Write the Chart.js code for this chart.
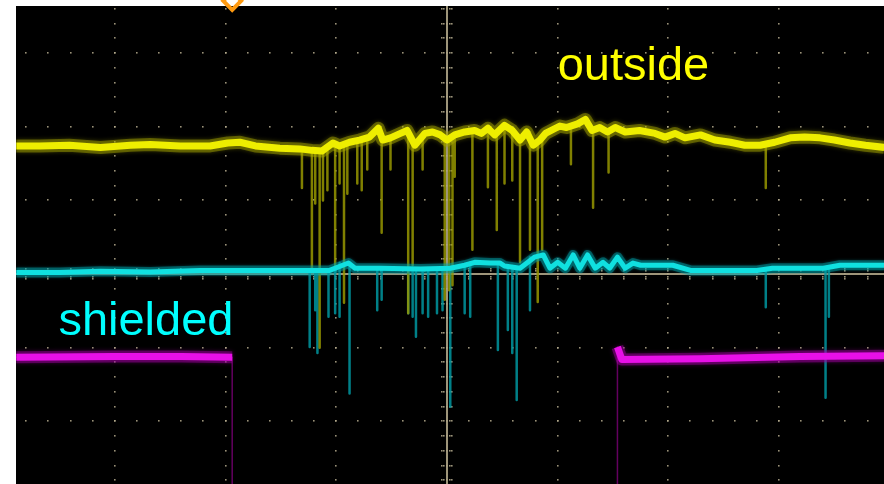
<!DOCTYPE html>
<html>
<head>
<meta charset="utf-8">
<script src="https://cdn.jsdelivr.net/npm/chart.js@4/dist/chart.umd.min.js"></script>
<style>
  html, body { margin: 0; padding: 0; background: #ffffff; }
  canvas { display: block; }
</style>
</head>
<body>
<canvas id="scope" width="884" height="484"></canvas>
<script>
// Visible screen, in divisions (time horizontally, volts vertically)
const timeRange = [-3.893, 3.948];
const voltRange = [-2.85, 3.64];
const majorX = [-3, -2, -1, 0, 1, 2, 3];
const majorY = [3, 2, 1, 0, -1, -2];
const minorStep = 0.2;

// Channel 1: probe outside the shield (yellow)
const outsideT = [-3.89, -3.68, -3.41, -3.13, -2.86, -2.68, -2.41, -2.14, -1.98, -1.87, -1.73, -1.51, -1.33, -1.22, -1.13,
  -1.03, -0.97, -0.88, -0.79, -0.70, -0.62, -0.58, -0.51, -0.42, -0.36, -0.29, -0.20, -0.13, -0.06, 0.00,
  0.07, 0.16, 0.25, 0.31, 0.37, 0.43, 0.52, 0.59, 0.66, 0.72, 0.78, 0.84, 0.89, 0.98, 1.02, 1.08, 1.18,
  1.25, 1.31, 1.38, 1.45, 1.52, 1.61, 1.74, 1.88, 1.97, 2.06, 2.15, 2.29, 2.42, 2.56, 2.69, 2.83, 2.96,
  3.10, 3.23, 3.37, 3.50, 3.64, 3.78, 3.95];
const outsideV = [1.74, 1.74, 1.75, 1.72, 1.75, 1.76, 1.74, 1.74, 1.78, 1.79, 1.74, 1.71, 1.70, 1.68, 1.67,
  1.78, 1.74, 1.79, 1.82, 1.86, 1.98, 1.82, 1.85, 1.91, 1.95, 1.75, 1.91, 1.93, 1.89, 1.82,
  1.89, 1.93, 1.95, 1.91, 1.98, 1.89, 2.02, 1.95, 1.82, 1.93, 1.75, 1.82, 1.91, 1.98, 2.01, 1.99, 2.04,
  2.10, 1.95, 1.99, 1.93, 1.99, 1.93, 1.95, 1.91, 1.86, 1.91, 1.85, 1.89, 1.82, 1.79, 1.75, 1.75, 1.79,
  1.85, 1.86, 1.85, 1.82, 1.78, 1.75, 1.72];
// Downward glitches on channel 1: time and lowest value
const outsideSpikeT = [-1.31, -1.22, -1.19, -1.15, -1.12, -1.08, -1.01, -0.97, -0.93, -0.90, -0.81, -0.77, -0.72,
  -0.59, -0.51, -0.35, -0.31, -0.22, -0.02, 0.02, 0.05, 0.07, 0.23, 0.37, 0.45, 0.52, 0.59, 0.66, 0.75,
  0.82, 0.86, 1.12, 1.32, 1.46, 2.88];
const outsideSpikeV = [1.17, 0.03, 0.96, -1.00, 1.00, 1.14, 0.12, 1.23, -0.39, 1.09, 1.23, 1.14, 1.42,
  0.56, 1.42, -0.53, 0.12, 1.42, -0.35, -0.22, -0.15, 1.32, 0.33, 1.18, 0.60, 1.23, 1.27, 0.16, 0.33,
  -0.38, 0.33, 1.49, 0.90, 1.38, 1.17];

// Channel 2: shielded probe (cyan)
const shieldedT = [-3.89, -3.50, -3.13, -2.68, -2.23, -1.78, -1.42, -1.06, -0.89, -0.83, -0.61, -0.24, 0.03,
  0.16, 0.25, 0.39, 0.48, 0.52, 0.66, 0.79, 0.87, 0.93, 1.00, 1.07, 1.14, 1.20, 1.27, 1.34, 1.41, 1.47,
  1.54, 1.61, 1.68, 1.75, 2.04, 2.20, 2.80, 2.94, 3.40, 3.55, 3.95];
const shieldedV = [0.02, 0.02, 0.04, 0.03, 0.05, 0.05, 0.05, 0.05, 0.15, 0.08, 0.08, 0.07, 0.08,
  0.12, 0.16, 0.15, 0.15, 0.11, 0.08, 0.23, 0.26, 0.08, 0.16, 0.08, 0.26, 0.08, 0.26, 0.08, 0.16, 0.08,
  0.23, 0.08, 0.15, 0.12, 0.12, 0.05, 0.05, 0.08, 0.08, 0.12, 0.12];
const shieldedSpikeT = [-1.24, -1.19, -1.17, -1.07, -1.01, -0.97, -0.88, -0.63, -0.59, -0.35, -0.31, -0.28,
  -0.22, -0.17, -0.09, -0.04, 0.03, 0.16, 0.21, 0.46, 0.55, 0.59, 0.63, 0.75, 2.88, 3.42, 3.45];
const shieldedSpikeV = [-0.99, -0.49, -1.07, -0.58, -0.53, -0.58, -1.62, -0.49, -0.35, -0.53, -0.58, -0.85,
  -0.53, -0.58, -0.53, -0.49, -1.80, -0.53, -0.58, -1.03, -0.76, -1.07, -1.71, -0.49, -0.45, -1.68, -0.58];

// Channel 3: enable signal (magenta); its low state sits below the screen
const enableT = [-3.89, -3.00, -2.40, -1.94, -1.94, 1.54, 1.54, 1.58, 2.29, 3.19, 3.95];
const enableV = [-1.13, -1.12, -1.12, -1.13, -3.40, -3.40, -0.99, -1.16, -1.15, -1.12, -1.11];

// Trigger position marker
const triggerT = -1.94;
const triggerV = 3.71;

// Channel captions
const captionText = ['outside', 'shielded'];
const captionT = [1.00, -3.51];
const captionV = [2.63, -0.83];
const captionColor = ['#ffff00', '#00ffff'];

function points(ts, vs) {
  return ts.map((t, i) => ({ x: t, y: vs[i] }));
}
function nearestLevel(ts, vs, t) {
  let best = 0;
  for (let i = 1; i < ts.length; i++) {
    if (Math.abs(ts[i] - t) < Math.abs(ts[best] - t)) best = i;
  }
  return vs[best];
}
function spikes(ts, vs, spikeT, spikeV) {
  const out = [];
  spikeT.forEach((t, i) => {
    out.push({ x: t, y: nearestLevel(ts, vs, t) });
    out.push({ x: t, y: spikeV[i] });
    out.push({ x: t, y: null });
  });
  return out;
}
const enableHigh = points(enableT, enableV).map(p => ({ x: p.x, y: p.y > voltRange[0] ? p.y : null }));

function trace(data, color, width, order, extra) {
  return Object.assign({
    data: data, borderColor: color, borderWidth: width, order: order,
    pointRadius: 0, tension: 0, fill: false,
    borderJoinStyle: 'round', borderCapStyle: 'butt'
  }, extra || {});
}

// Soft phosphor glow around the traces
const glowPlugin = {
  id: 'glow',
  beforeDatasetDraw(chart, args) {
    const ds = chart.data.datasets[args.index];
    if (!ds.glow) return;
    chart.ctx.save();
    chart.ctx.shadowColor = ds.glow;
    chart.ctx.shadowBlur = ds.glowBlur || 4;
  },
  afterDatasetDraw(chart, args) {
    const ds = chart.data.datasets[args.index];
    if (ds.glow) chart.ctx.restore();
  }
};

// Screen: black face, dotted graticule and centre cross
const screenPlugin = {
  id: 'screen',
  beforeDatasetsDraw(chart) {
    const { ctx, chartArea: a, scales } = chart;
    const xs = scales.x, ys = scales.y;
    ctx.save();
    ctx.fillStyle = '#000000';
    ctx.fillRect(a.left, a.top, a.right - a.left, a.bottom - a.top);
    ctx.fillStyle = 'rgba(180,170,140,0.85)';
    const dot = (x, y) => ctx.fillRect(Math.round(x) - 1, Math.round(y) - 1, 1.6, 1.6);
    const vFrom = Math.ceil(voltRange[0] / minorStep), vTo = Math.floor(voltRange[1] / minorStep);
    const tFrom = Math.ceil(timeRange[0] / minorStep), tTo = Math.floor(timeRange[1] / minorStep);
    majorX.forEach(t => {
      const x = xs.getPixelForValue(t);
      for (let k = vFrom; k <= vTo; k++) {
        const y = ys.getPixelForValue(k * minorStep);
        dot(x, y);
        if (t === 0) { dot(x - 5, y); dot(x - 3, y); dot(x + 3, y); dot(x + 5, y); }
      }
    });
    majorY.forEach(v => {
      const y = ys.getPixelForValue(v);
      for (let k = tFrom; k <= tTo; k++) {
        const x = xs.getPixelForValue(k * minorStep);
        dot(x, y);
        if (v === 0) { dot(x, y - 5); dot(x, y - 3); dot(x, y + 3); dot(x, y + 5); }
      }
    });
    ctx.strokeStyle = 'rgba(175,165,135,0.9)';
    ctx.lineWidth = 2;
    const cx = Math.round(xs.getPixelForValue(0)), cy = Math.round(ys.getPixelForValue(0));
    ctx.beginPath();
    ctx.moveTo(cx, a.top); ctx.lineTo(cx, a.bottom);
    ctx.moveTo(a.left, cy); ctx.lineTo(a.right, cy);
    ctx.stroke();
    ctx.restore();
  },
  afterDatasetsDraw(chart) {
    const { ctx, scales } = chart;
    ctx.save();
    ctx.font = '47px "Liberation Sans", Arial, sans-serif';
    ctx.textAlign = 'left';
    ctx.textBaseline = 'alphabetic';
    captionText.forEach((txt, i) => {
      ctx.fillStyle = captionColor[i];
      ctx.fillText(txt, scales.x.getPixelForValue(captionT[i]), scales.y.getPixelForValue(captionV[i]));
    });
    ctx.restore();
  }
};

new Chart(document.getElementById('scope'), {
  type: 'line',
  data: {
    datasets: [
      // trigger marker
      { data: [{ x: triggerT, y: triggerV }], order: 0, clip: false, showLine: false,
        pointStyle: 'rectRot', pointRadius: 9, pointBorderWidth: 4,
        pointBorderColor: '#ff9a10', pointBackgroundColor: 'rgba(0,0,0,0)' },
      // bright cores
      trace(points(outsideT, outsideV), '#eeee00', 7, 1),
      trace(points(shieldedT, shieldedV), '#10e0e0', 5, 1),
      trace(enableHigh, '#e810e8', 7, 1),
      // noise halos
      trace(points(outsideT, outsideV), 'rgba(170,170,0,0.45)', 13, 2, { glow: 'rgba(150,150,0,0.8)', glowBlur: 4 }),
      trace(points(shieldedT, shieldedV), 'rgba(0,165,170,0.45)', 10, 2, { glow: 'rgba(0,150,160,0.8)', glowBlur: 3 }),
      trace(enableHigh, 'rgba(165,0,165,0.45)', 12, 2, { glow: 'rgba(150,0,150,0.8)', glowBlur: 4 }),
      // glitches and edges
      trace(spikes(outsideT, outsideV, outsideSpikeT, outsideSpikeV), 'rgba(150,150,0,0.85)', 2.5, 3,
        { borderCapStyle: 'round' }),
      trace(spikes(shieldedT, shieldedV, shieldedSpikeT, shieldedSpikeV), 'rgba(0,150,160,0.85)', 2.5, 3,
        { borderCapStyle: 'round' }),
      trace(points(enableT, enableV), 'rgba(110,0,105,0.9)', 1.5, 3)
    ]
  },
  options: {
    responsive: false,
    animation: false,
    devicePixelRatio: 1,
    layout: { autoPadding: false, padding: { left: 16, top: 6, right: 0, bottom: 0 } },
    scales: {
      x: { type: 'linear', min: timeRange[0], max: timeRange[1], display: false },
      y: { type: 'linear', min: voltRange[0], max: voltRange[1], display: false }
    },
    plugins: { legend: { display: false }, tooltip: { enabled: false } },
    elements: { point: { radius: 0 } }
  },
  plugins: [screenPlugin, glowPlugin]
});
</script>
</body>
</html>
